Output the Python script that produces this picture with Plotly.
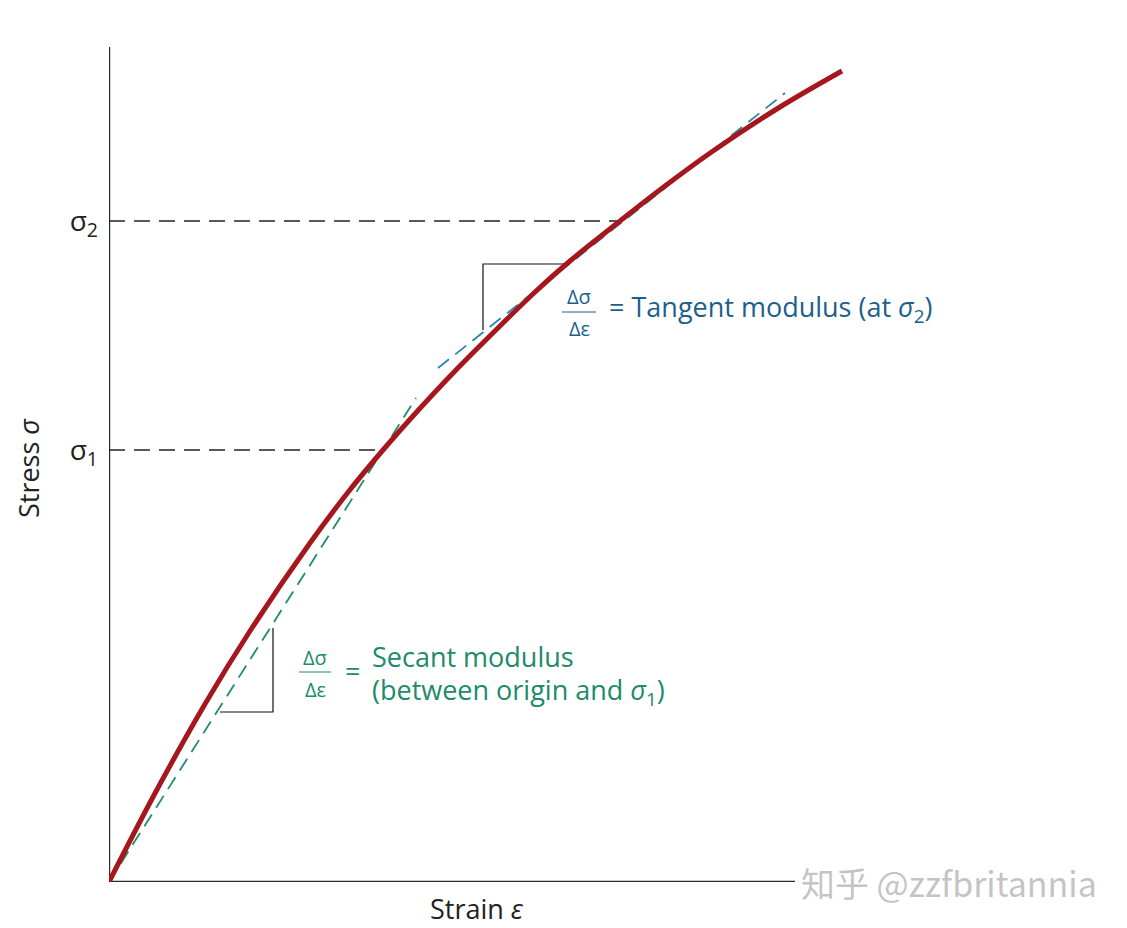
import plotly.graph_objects as go

# ---- data (units: 1 unit = 100 px of the original figure) ----
strain = [0, 0.44, 0.96, 1.41, 2.01, 2.40, 2.74, 3.04, 3.47, 3.91, 4.25, 4.61, 5.11, 5.56, 6.04, 6.71, 7.33]
stress = [0, 0.85, 1.78, 2.51, 3.39, 3.91, 4.32, 4.66, 5.12, 5.56, 5.89, 6.21, 6.61, 6.96, 7.31, 7.75, 8.11]

sigma_levels = [4.32, 6.61]          # sigma1, sigma2
sigma_strain = [2.74, 5.11]          # strain where curve reaches sigma1, sigma2
sigma_labels = ["σ<sub>1</sub>", "σ<sub>2</sub>"]

secant_x = [0, 3.07]
secant_y = [0, 4.84]
tangent_x = [3.29, 6.76]
tangent_y = [5.14, 7.89]

sec_tri_x = [1.11, 1.64, 1.64]
sec_tri_y = [1.70, 1.70, 2.54]
tan_tri_x = [3.74, 3.74, 4.61]
tan_tri_y = [5.52, 6.18, 6.18]

x_axis_end = 6.86
y_axis_end = 8.35

FONT = "Open Sans"
RED = "#a5161d"
GREEN_LINE = "#1f8c6d"
GREEN_TXT = "#208a6b"
BLUE_LINE = "#2a86b0"
BLUE_TXT = "#1c5f8d"
AX = "#2b2b2b"

fig = go.Figure()

# axes lines
fig.add_trace(go.Scatter(x=[0, 0, x_axis_end], y=[y_axis_end, 0, 0], mode="lines",
                         line=dict(color=AX, width=2.4), hoverinfo="skip"))

# sigma dashed guides
for lvl, sx in zip(sigma_levels, sigma_strain):
    fig.add_trace(go.Scatter(x=[0, sx], y=[lvl, lvl], mode="lines",
                             line=dict(color="#222222", width=1.7, dash="16px,9px"),
                             hoverinfo="skip"))

# triangles
fig.add_trace(go.Scatter(x=sec_tri_x, y=sec_tri_y, mode="lines",
                         line=dict(color="#111111", width=1.2), hoverinfo="skip"))
fig.add_trace(go.Scatter(x=tan_tri_x, y=tan_tri_y, mode="lines",
                         line=dict(color="#111111", width=1.2), hoverinfo="skip"))

# secant & tangent
fig.add_trace(go.Scatter(x=secant_x, y=secant_y, mode="lines",
                         line=dict(color=GREEN_LINE, width=1.8, dash="14px,8px"),
                         hoverinfo="skip"))
fig.add_trace(go.Scatter(x=tangent_x, y=tangent_y, mode="lines",
                         line=dict(color=BLUE_LINE, width=1.8, dash="14px,8px"),
                         hoverinfo="skip"))

# stress-strain curve
fig.add_trace(go.Scatter(x=strain, y=stress, mode="lines",
                         line=dict(color=RED, width=5, shape="spline", smoothing=1.0),
                         hoverinfo="skip"))

# fraction bars
fig.add_trace(go.Scatter(x=[4.53, 4.87], y=[5.70, 5.70], mode="lines",
                         line=dict(color=BLUE_TXT, width=1), hoverinfo="skip"))
fig.add_trace(go.Scatter(x=[1.90, 2.22], y=[2.10, 2.10], mode="lines",
                         line=dict(color=GREEN_TXT, width=1), hoverinfo="skip"))

ann = []
def A(x, y, text, size, color, xanchor="center", yanchor="middle", xref="x", yref="y",
      angle=0, family=FONT):
    ann.append(dict(x=x, y=y, text=text, xref=xref, yref=yref, showarrow=False,
                    xanchor=xanchor, yanchor=yanchor, textangle=angle,
                    font=dict(family=family, size=size, color=color)))

# tangent label
A(4.70, 5.86, "Δσ", 20, BLUE_TXT)
A(4.70, 5.54, "Δε", 20, BLUE_TXT)
A(4.98, 5.74, "= Tangent modulus (at <i>σ</i><sub>2</sub>)", 27, BLUE_TXT, xanchor="left")

# secant label
A(2.06, 2.25, "Δσ", 20, GREEN_TXT)
A(2.06, 1.93, "Δε", 20, GREEN_TXT)
A(2.43, 2.12, "=", 27, GREEN_TXT)
A(2.61, 2.26, "Secant modulus", 27, GREEN_TXT, xanchor="left")
A(2.61, 1.91, "(between origin and <i>σ</i><sub>1</sub>)", 27, GREEN_TXT, xanchor="left")

# axis titles (paper coords relative to plot area: px 109..845, py 47..882)
A((28 - 109) / 736, (882 - 468) / 835, "Stress <i>σ</i>", 27, "#222222",
  xref="paper", yref="paper", angle=-90)
A((477 - 109) / 736, (882 - 908) / 835, "Strain <i>ε</i>", 27, "#222222",
  xref="paper", yref="paper")

# watermark
A((949 - 109) / 736, 0, "知乎 @zzfbritannia", 34, "rgba(170,170,170,0.7)",
  xref="paper", yref="paper", family="Noto Sans CJK SC")

# page body has an 8px margin, so shift plot area back by 8px
fig.update_layout(
    width=1127, height=928,
    margin=dict(l=101, r=290, t=39, b=54),
    paper_bgcolor="white", plot_bgcolor="white",
    showlegend=False,
    annotations=ann,
    xaxis=dict(range=[0, 7.36], showgrid=False, zeroline=False, showline=False,
               showticklabels=False, ticks=""),
    yaxis=dict(range=[0, 8.35], showgrid=False, zeroline=False, showline=False,
               tickvals=sigma_levels, ticktext=sigma_labels, ticks="",
               ticklabelstandoff=10,
               tickfont=dict(family=FONT, size=28, color="#222222")),
)

fig.write_html("out.html")
